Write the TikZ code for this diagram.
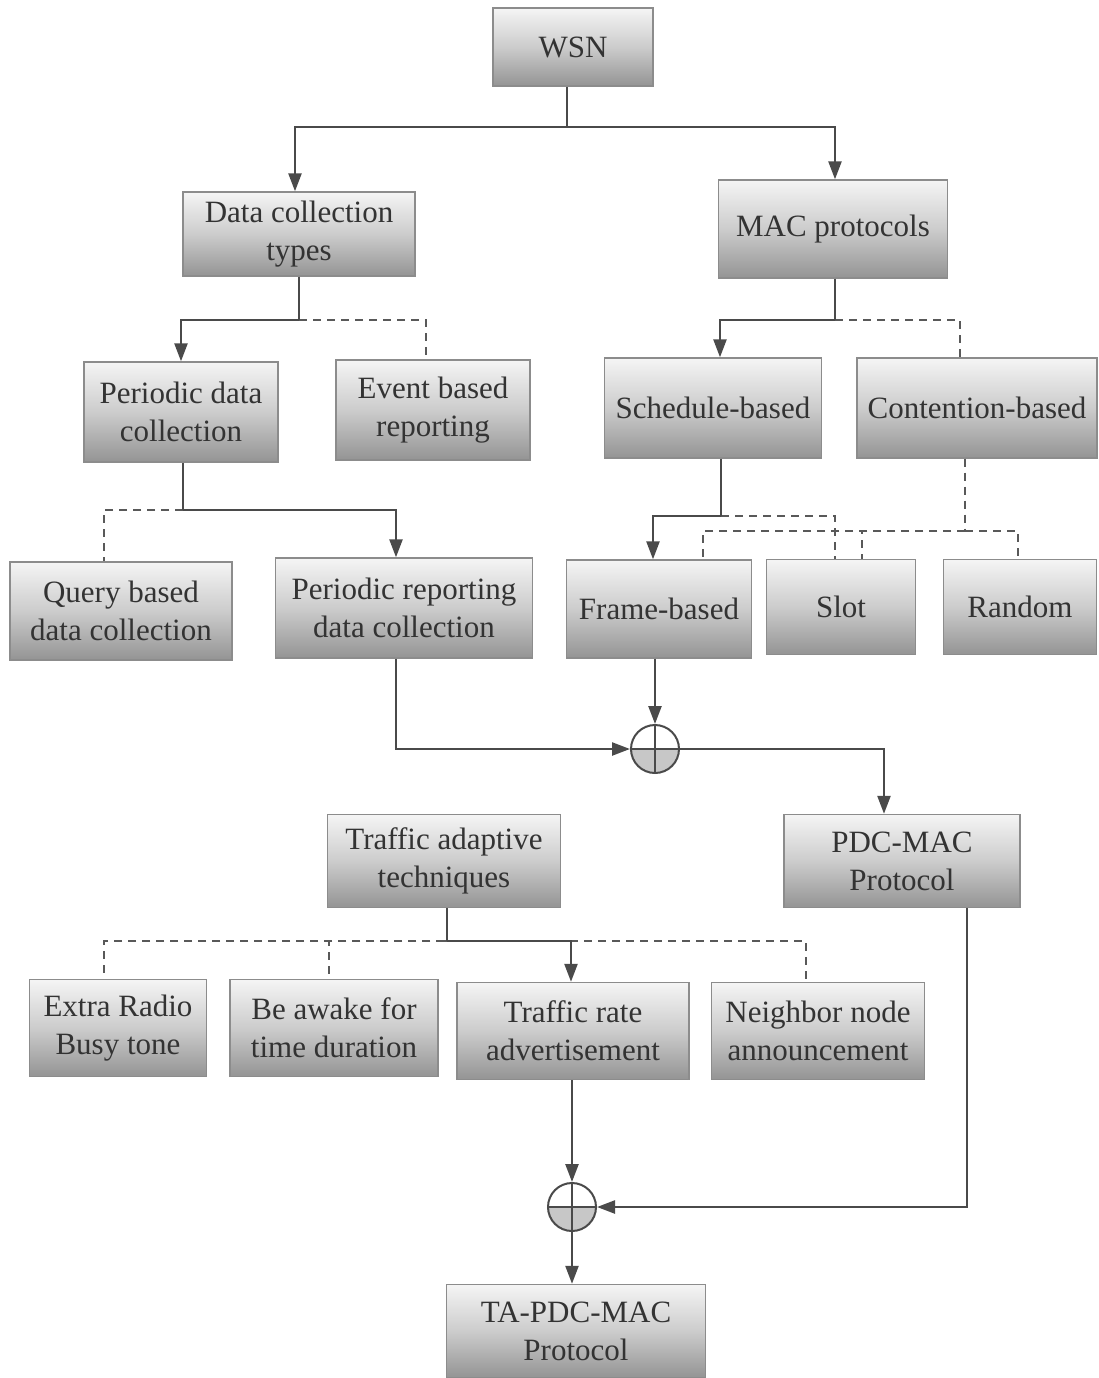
\documentclass[tikz,border=0pt]{standalone}
\usepackage{fontspec}
\setmainfont{Liberation Serif}
\usetikzlibrary{arrows.meta}
\definecolor{lnc}{HTML}{4A4A4A}
\definecolor{txc}{HTML}{333333}
\begin{document}
\begin{tikzpicture}[x=0.5pt,y=-0.5pt,
  boxst/.style={draw=black!45, line width=0.7pt, inner sep=0pt, align=center,
    top color=black!4, bottom color=black!42, middle color=black!20,
    text=txc, font=\fontsize{15.5}{19}\selectfont},
  ln/.style={draw=lnc, line width=1.2pt},
  arr/.style={ln, -{Triangle[length=9pt,width=6.5pt]}},
  dsh/.style={draw=black!65, line width=0.8pt, dash pattern=on 4pt off 3pt},
  opl/.style={circle, draw=lnc, line width=1pt, minimum size=24pt, inner sep=0pt,
    path picture={
      \fill[black!22] (path picture bounding box.west) rectangle (path picture bounding box.south east);
      \draw[lnc, line width=1pt] (path picture bounding box.north) -- (path picture bounding box.south);
      \draw[lnc, line width=1pt] (path picture bounding box.west) -- (path picture bounding box.east);
    }}
]
\useasboundingbox (0,0) rectangle (1099,1378);

% boxes
\node[boxst, minimum width=80pt, minimum height=39pt] (wsn) at (573,47) {WSN};
\node[boxst, minimum width=116pt, minimum height=42pt] (dct) at (299,234) {Data collection\\types};
\node[boxst, minimum width=114.5pt, minimum height=49pt] (mac) at (833,229) {MAC protocols};
\node[boxst, minimum width=97pt, minimum height=50pt] (pdc) at (181,412) {Periodic data\\collection};
\node[boxst, minimum width=97pt, minimum height=50pt] (ebr) at (433,410) {Event based\\reporting};
\node[boxst, minimum width=108.5pt, minimum height=50pt] (sch) at (713,408) {Schedule-based};
\node[boxst, minimum width=120pt, minimum height=50pt] (con) at (977,408) {Contention-based};
\node[boxst, minimum width=111pt, minimum height=49pt] (qbd) at (121,611) {Query based\\data collection};
\node[boxst, minimum width=128.5pt, minimum height=50pt] (prd) at (404,608) {Periodic reporting\\data collection};
\node[boxst, minimum width=92.5pt, minimum height=49pt] (frm) at (659,609) {Frame-based};
\node[boxst, minimum width=74.5pt, minimum height=47.5pt] (slot) at (841,607) {Slot};
\node[boxst, minimum width=76.5pt, minimum height=47.5pt] (rnd) at (1020,607) {Random};
\node[boxst, minimum width=118pt, minimum height=46.5pt] (pdcmac) at (902,861) {PDC-MAC\\Protocol};
\node[boxst, minimum width=116.5pt, minimum height=46.5pt] (tat) at (444,861) {Traffic adaptive\\techniques};
\node[boxst, minimum width=88.5pt, minimum height=48.5pt] (erb) at (118,1028) {Extra Radio\\Busy tone};
\node[boxst, minimum width=104pt, minimum height=48.5pt] (baw) at (334,1028) {Be awake for\\time duration};
\node[boxst, minimum width=116pt, minimum height=48.5pt] (tra) at (573,1031) {Traffic rate\\advertisement};
\node[boxst, minimum width=106.5pt, minimum height=48.5pt] (nna) at (818,1031) {Neighbor node\\announcement};
\node[boxst, minimum width=129.5pt, minimum height=46.5pt] (tapdc) at (576,1331) {TA-PDC-MAC\\Protocol};

\node[opl] (op1) at (655,749) {};
\node[opl] (op2) at (572,1207) {};

% junctions
\coordinate (j1) at (567,127);
\coordinate (j2) at (299,320);
\coordinate (j3) at (835,320);
\coordinate (j4) at (183,510);
\coordinate (j5) at (721,516);
\coordinate (j6) at (965,531);
\coordinate (j7) at (447,941);

% WSN
\draw[ln] (wsn.south -| j1) -- (j1);
\draw[arr] (j1) -| ([xshift=-2pt]dct.north);
\draw[arr] (j1) -| ([xshift=1pt]mac.north);

% data collection types
\draw[dsh] (j2) -| ([xshift=-3.5pt]ebr.north);
\draw[ln] (dct.south -| j2) -- (j2);
\draw[arr] (j2) -| (pdc.north);

% MAC
\draw[dsh] (j3) -| ([xshift=-8.5pt]con.north);
\draw[ln] (mac.south -| j3) -- (j3);
\draw[arr] (j3) -| ([xshift=3.5pt]sch.north);

% periodic data
\draw[dsh] (j4) -| ([xshift=-8.5pt]qbd.north);
\draw[ln] (pdc.south -| j4) -- (j4);
\draw[arr] (j4) -| ([xshift=-4pt]prd.north);

% schedule
\draw[dsh] (j5) -| ([xshift=-3pt]slot.north);
\draw[ln] (sch.south -| j5) -- (j5);
\draw[arr] (j5) -| ([xshift=-3pt]frm.north);

% contention
\draw[dsh] (con.south -| j6) -- (j6);
\draw[dsh] (j6) -| ([xshift=22pt]frm.north);
\draw[dsh] (j6) -| ([xshift=10.5pt]slot.north);
\draw[dsh] (j6) -| ([xshift=-1pt]rnd.north);

% oplus 1
\draw[arr] (frm.south -| op1) -- (op1.north);
\draw[arr] ([xshift=-4pt]prd.south) |- (op1.west);
\draw[arr] (op1.east) -| ([xshift=-9pt]pdcmac.north);

% traffic adaptive
\draw[dsh] (tat.south |- j7) -| ([xshift=-7pt]erb.north);
\draw[dsh] (tat.south |- j7) -| ([xshift=-2.5pt]baw.north);
\draw[dsh] (tat.south |- j7) -| ([xshift=-6pt]nna.north);
\draw[ln] ([xshift=1.5pt]tat.south) -- (j7);
\draw[arr] (j7) -| ([xshift=-1pt]tra.north);

% oplus 2
\draw[arr] (tra.south -| op2) -- (op2.north);
\draw[arr] ([xshift=32.5pt]pdcmac.south) |- (op2.east);
\draw[arr] (op2.south) -- (op2.south |- tapdc.north);
\end{tikzpicture}
\end{document}
